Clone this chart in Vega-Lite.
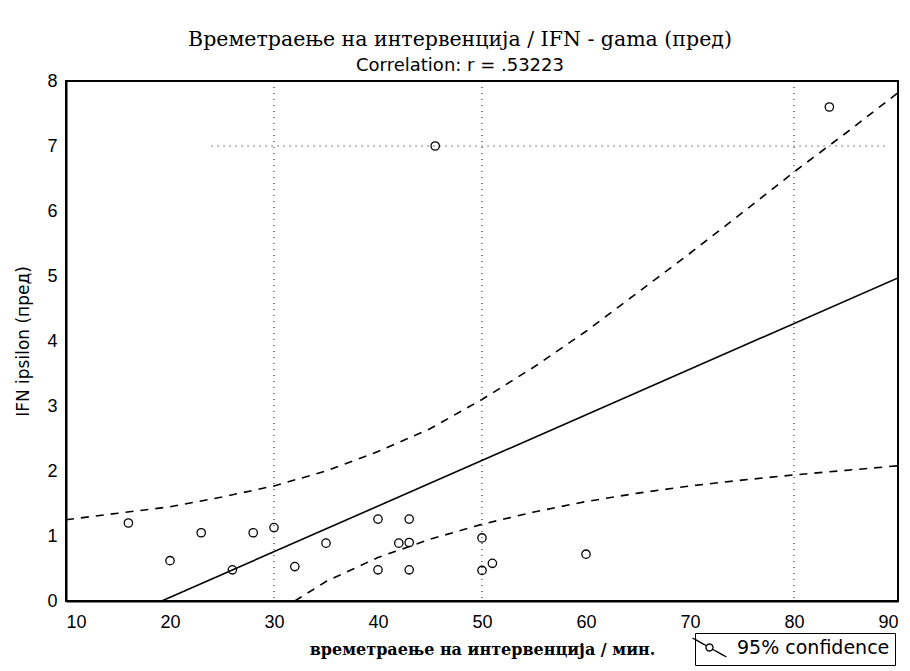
{
  "$schema": "https://vega.github.io/schema/vega-lite/v6.json",
  "autosize": "none",
  "width": 832,
  "height": 520,
  "padding": {"left": 66, "top": 81, "right": 12, "bottom": 70},
  "background": "white",
  "title": {
    "text": "Времетраење на интервенција / IFN - gama (пред)",
    "subtitle": "Correlation: r = .53223",
    "anchor": "middle",
    "dx": -22,
    "offset": -3,
    "font": "DejaVu Serif",
    "fontSize": 20.5,
    "fontWeight": "normal",
    "color": "black",
    "subtitleFont": "DejaVu Sans",
    "subtitleFontSize": 18,
    "subtitleColor": "black",
    "subtitlePadding": 7
  },
  "datasets": {
    "points": [
      {"x": 16, "y": 1.2},
      {"x": 20, "y": 0.62},
      {"x": 23, "y": 1.05},
      {"x": 26, "y": 0.48},
      {"x": 28, "y": 1.05},
      {"x": 30, "y": 1.13},
      {"x": 32, "y": 0.53},
      {"x": 35, "y": 0.89},
      {"x": 40, "y": 1.26},
      {"x": 40, "y": 0.48},
      {"x": 42, "y": 0.89},
      {"x": 43, "y": 1.26},
      {"x": 43, "y": 0.9},
      {"x": 43, "y": 0.48},
      {"x": 45.5, "y": 7.0},
      {"x": 50, "y": 0.97},
      {"x": 50, "y": 0.47},
      {"x": 51, "y": 0.58},
      {"x": 60, "y": 0.72},
      {"x": 83.4, "y": 7.6}
    ],
    "fit": [
      {"x": 19.2, "y": 0},
      {"x": 90, "y": 4.97}
    ],
    "ci": [
      {"x": 10, "y": 1.25, "band": "upper", "series": "95% confidence"},
      {"x": 15, "y": 1.35, "band": "upper", "series": "95% confidence"},
      {"x": 20, "y": 1.45, "band": "upper", "series": "95% confidence"},
      {"x": 25, "y": 1.6, "band": "upper", "series": "95% confidence"},
      {"x": 30, "y": 1.77, "band": "upper", "series": "95% confidence"},
      {"x": 35, "y": 2.0, "band": "upper", "series": "95% confidence"},
      {"x": 40, "y": 2.3, "band": "upper", "series": "95% confidence"},
      {"x": 45, "y": 2.65, "band": "upper", "series": "95% confidence"},
      {"x": 50, "y": 3.1, "band": "upper", "series": "95% confidence"},
      {"x": 55, "y": 3.6, "band": "upper", "series": "95% confidence"},
      {"x": 60, "y": 4.15, "band": "upper", "series": "95% confidence"},
      {"x": 65, "y": 4.75, "band": "upper", "series": "95% confidence"},
      {"x": 70, "y": 5.35, "band": "upper", "series": "95% confidence"},
      {"x": 75, "y": 5.97, "band": "upper", "series": "95% confidence"},
      {"x": 80, "y": 6.6, "band": "upper", "series": "95% confidence"},
      {"x": 85, "y": 7.2, "band": "upper", "series": "95% confidence"},
      {"x": 90, "y": 7.82, "band": "upper", "series": "95% confidence"},
      {"x": 32, "y": 0, "band": "lower", "series": "95% confidence"},
      {"x": 35, "y": 0.3, "band": "lower", "series": "95% confidence"},
      {"x": 40, "y": 0.67, "band": "lower", "series": "95% confidence"},
      {"x": 45, "y": 0.95, "band": "lower", "series": "95% confidence"},
      {"x": 50, "y": 1.18, "band": "lower", "series": "95% confidence"},
      {"x": 55, "y": 1.37, "band": "lower", "series": "95% confidence"},
      {"x": 60, "y": 1.53, "band": "lower", "series": "95% confidence"},
      {"x": 65, "y": 1.66, "band": "lower", "series": "95% confidence"},
      {"x": 70, "y": 1.77, "band": "lower", "series": "95% confidence"},
      {"x": 75, "y": 1.86, "band": "lower", "series": "95% confidence"},
      {"x": 80, "y": 1.94, "band": "lower", "series": "95% confidence"},
      {"x": 85, "y": 2.01, "band": "lower", "series": "95% confidence"},
      {"x": 90, "y": 2.08, "band": "lower", "series": "95% confidence"}
    ],
    "vgrid": [{"gx": 30}, {"gx": 50}, {"gx": 80}],
    "hgrid": [{"gy": 7, "gx1": 24, "gx2": 89}]
  },
  "layer": [
    {
      "data": {"name": "vgrid"},
      "mark": {"type": "rule", "stroke": "black", "strokeWidth": 1, "strokeDash": [1, 5]},
      "encoding": {
        "x": {"field": "gx", "type": "quantitative", "scale": {"domain": [10, 90], "nice": false, "zero": false}}
      }
    },
    {
      "data": {"name": "hgrid"},
      "mark": {"type": "rule", "stroke": "black", "strokeWidth": 1, "strokeDash": [1, 5]},
      "encoding": {
        "y": {"field": "gy", "type": "quantitative"},
        "x": {"field": "gx1", "type": "quantitative"},
        "x2": {"field": "gx2"}
      }
    },
    {
      "data": {"name": "ci"},
      "mark": {"type": "line", "strokeWidth": 1.6, "strokeDash": [8, 7], "clip": true},
      "encoding": {
        "x": {"field": "x", "type": "quantitative"},
        "y": {"field": "y", "type": "quantitative"},
        "detail": {"field": "band"},
        "color": {
          "field": "series",
          "type": "nominal",
          "scale": {"domain": ["95% confidence"], "range": ["black"]},
          "legend": {
            "title": null,
            "orient": "none",
            "legendX": 629,
            "legendY": 552,
            "strokeColor": "black",
            "padding": 5,
            "symbolType": "M-3.4,-1.9L-0.61,-0.35M0.61,0.35L3.4,1.9M0.7,0A0.7,0.7 0 1,1 -0.7,0A0.7,0.7 0 1,1 0.7,0",
            "symbolSize": 100,
            "symbolStrokeColor": "black",
            "symbolStrokeWidth": 1.3,
            "symbolDash": [1, 0],
            "symbolFillColor": "transparent",
            "labelFont": "DejaVu Sans",
            "labelFontSize": 19,
            "labelColor": "black",
            "labelOffset": 18
          }
        }
      }
    },
    {
      "data": {"name": "fit"},
      "mark": {"type": "line", "stroke": "black", "strokeWidth": 1.6, "clip": true},
      "encoding": {
        "x": {"field": "x", "type": "quantitative"},
        "y": {"field": "y", "type": "quantitative"}
      }
    },
    {
      "data": {"name": "points"},
      "mark": {"type": "point", "shape": "circle", "filled": false, "stroke": "black", "strokeWidth": 1.3, "size": 70, "opacity": 1},
      "encoding": {
        "x": {
          "field": "x", "type": "quantitative",
          "scale": {"domain": [10, 90], "nice": false, "zero": false},
          "axis": {
            "title": "времетраење на интервенција / мин.",
            "values": [10, 20, 30, 40, 50, 60, 70, 80, 90],
            "grid": false,
            "ticks": false,
            "labelPadding": 12,
            "titlePadding": 10,
            "titleFont": "DejaVu Serif",
            "titleFontSize": 16,
            "titleFontWeight": "bold"
          }
        },
        "y": {
          "field": "y", "type": "quantitative",
          "scale": {"domain": [0, 8], "nice": false, "zero": true},
          "axis": {
            "title": "IFN ipsilon (пред)",
            "values": [0, 1, 2, 3, 4, 5, 6, 7, 8],
            "format": "d",
            "grid": false,
            "ticks": false,
            "labelPadding": 9,
            "titlePadding": 14,
            "titleFont": "DejaVu Sans",
            "titleFontSize": 17,
            "titleFontWeight": "normal"
          }
        }
      }
    }
  ],
  "config": {
    "view": {"stroke": "black", "strokeWidth": 2},
    "axis": {
      "domainColor": "black",
      "domainWidth": 2,
      "labelFont": "Liberation Sans",
      "labelFontSize": 18,
      "labelColor": "black",
      "titleColor": "black"
    }
  }
}
